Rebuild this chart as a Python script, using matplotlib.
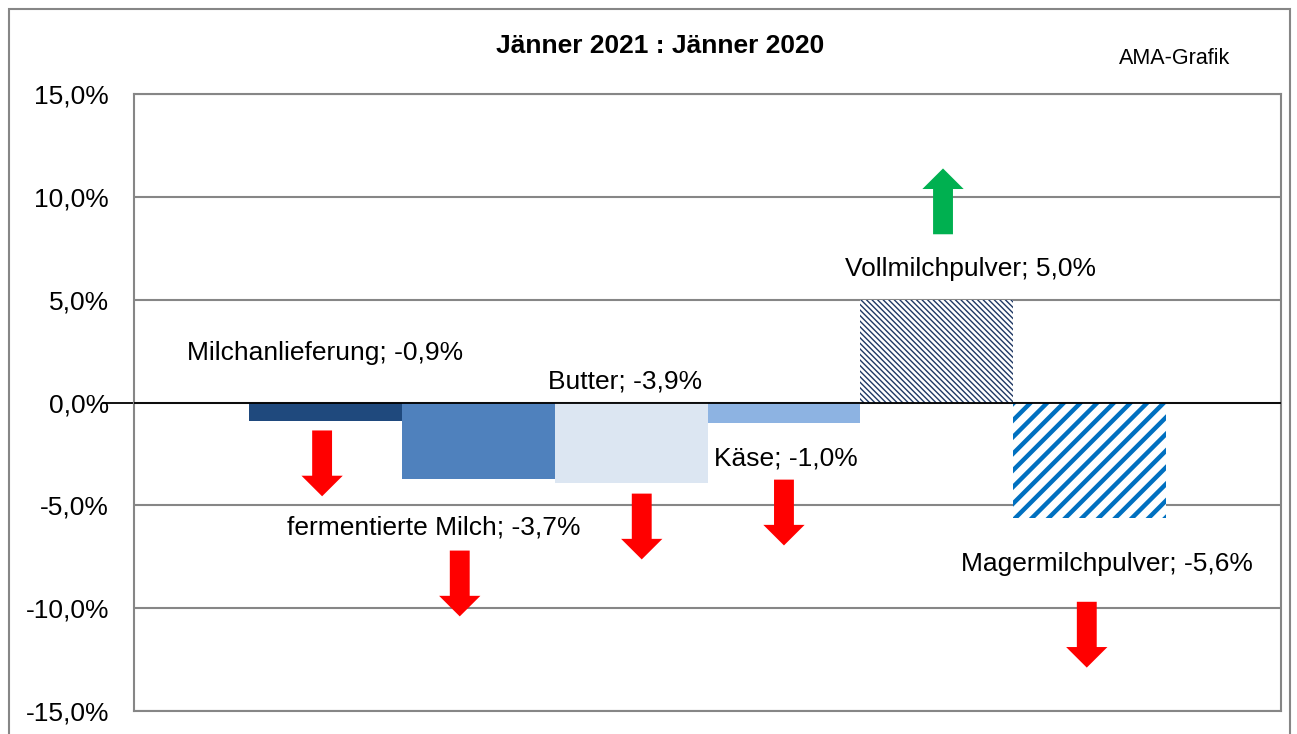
import numpy as np
import matplotlib
matplotlib.use("Agg")
from matplotlib import pyplot as plt
from matplotlib.patches import Rectangle, FancyArrow
from matplotlib.ticker import FuncFormatter

plt.rcParams['font.family'] = ['Liberation Sans', 'DejaVu Sans']

# data
produkte = ["Milchanlieferung", "fermentierte Milch", "Butter", "Käse",
            "Vollmilchpulver", "Magermilchpulver"]
werte = [-0.9, -3.7, -3.9, -1.0, 5.0, -5.6]
farben = ["#1F497D", "#4F81BD", "#DCE6F2", "#8DB3E2", "white", "white"]
schraffur = [None, None, None, None, "\\" * 6, "//"]
schraffur_farbe = [None, None, None, None, "#1F3864", "#0070C0"]
schraffur_breite = [0, 0, 0, 0, 1.0, 3.2]
yticks = [-15, -10, -5, 0, 5, 10, 15]

# label positions (offset from bar centre, y in %)
label_dx = [0.0, -0.29, -0.04, 0.01, 0.22, 0.11]
label_y = [2.4, -6.1, 1.0, -2.7, 6.5, -7.85]
# arrow positions (offset from bar centre, start y, end y in %)
pfeil_dx = [-0.02, -0.12, 0.07, 0.0, 0.04, -0.02]
pfeil_start = [-1.36, -7.2, -4.43, -3.75, 8.18, -9.69]
pfeil_laenge = 3.2

fig = plt.figure(figsize=(12.97, 7.34), dpi=100)
ax = fig.add_axes([134/1297, 23/734, (1281-134)/1297, (711-94)/734])

x = np.arange(len(produkte))
for i in range(len(produkte)):
    b = ax.bar(x[i], werte[i], width=1.0, color=farben[i], linewidth=0,
               zorder=2)
    if schraffur[i]:
        p = b.patches[0]
        p.set_hatch(schraffur[i])
        p.set_edgecolor(schraffur_farbe[i])
        try:
            p.set_hatch_linewidth(schraffur_breite[i])
        except AttributeError:
            plt.rcParams['hatch.linewidth'] = schraffur_breite[i]

ax.set_xlim(-1.25, len(produkte) + 0.25)
ax.set_ylim(-15, 15)
ax.set_yticks(yticks)
ax.yaxis.set_major_formatter(FuncFormatter(lambda v, p: f"{v:.1f}%".replace(".", ",")))
ax.set_xticks([])
ax.tick_params(axis='y', length=0, labelsize=19, pad=18)
ax.grid(axis='y', color="#868686", linewidth=1.5, zorder=0)
for s in ax.spines.values():
    s.set_color("#868686")
    s.set_linewidth(1.5)
ax.axhline(0, color="black", linewidth=1.3, zorder=3)
ax.plot([-1.45, -1.25], [0, 0], color="black", linewidth=1.3, clip_on=False)

for i in range(len(produkte)):
    wert_txt = f"{werte[i]:.1f}%".replace(".", ",")
    ax.text(x[i] + label_dx[i], label_y[i], f"{produkte[i]}; {wert_txt}",
            ha="center", va="center", fontsize=19, zorder=4)
    richtung = 1 if werte[i] > 0 else -1
    ax.add_patch(FancyArrow(x[i] + pfeil_dx[i], pfeil_start[i], 0,
                            richtung * pfeil_laenge, width=0.13,
                            head_width=0.27, head_length=1.0,
                            length_includes_head=True, linewidth=0,
                            color="#00B050" if richtung > 0 else "#FF0000",
                            zorder=4))

fig.text(660/1297, 1 - 46/734, "Jänner 2021 : Jänner 2020", ha="center",
         va="center", fontsize=19, fontweight="bold")
fig.text(1175/1297, 1 - 58/734, "AMA-Grafik", ha="center", va="center",
         fontsize=15.5)

fig.patches.append(Rectangle((9/1297, -0.05), (1290-9)/1297, 1.05 - 9/734,
                             transform=fig.transFigure, fill=False,
                             edgecolor="#868686", linewidth=1.5))

fig.savefig("out.png", dpi=100)
